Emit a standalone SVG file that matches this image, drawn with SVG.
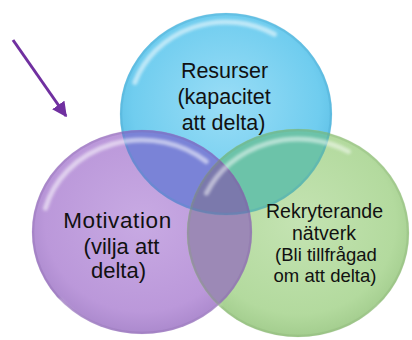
<svg xmlns="http://www.w3.org/2000/svg" width="412" height="340" viewBox="0 0 412 340">
<style>
.t{font-family:"Liberation Sans",Arial,sans-serif;fill:#111;text-anchor:middle}
.hl{fill:none;stroke:#fff;stroke-linecap:round;filter:url(#blur)}
.rim{fill:none;stroke-width:2.5}
</style>
<defs>
<filter id="blur" x="-20%" y="-20%" width="140%" height="140%"><feGaussianBlur stdDeviation="1.6"/></filter>
<radialGradient id="gB" cx="0.5" cy="0.45" r="0.55">
<stop offset="0" stop-color="#9ADDF6"/><stop offset="0.8" stop-color="#70CDEF"/><stop offset="1" stop-color="#5DBFE5"/>
</radialGradient>
<radialGradient id="gP" cx="0.5" cy="0.45" r="0.55">
<stop offset="0" stop-color="#C8AAE3"/><stop offset="0.8" stop-color="#BB98DA"/><stop offset="1" stop-color="#AB89CD"/>
</radialGradient>
<radialGradient id="gG" cx="0.5" cy="0.45" r="0.55">
<stop offset="0" stop-color="#C4E3B2"/><stop offset="0.8" stop-color="#B3DA9E"/><stop offset="1" stop-color="#A3CD8E"/>
</radialGradient>
<clipPath id="cpB"><ellipse cx="226" cy="114" rx="106" ry="101"/></clipPath>
<clipPath id="cpP"><ellipse cx="142" cy="232" rx="110" ry="102"/></clipPath>
<marker id="ah" viewBox="0 0 10 10" refX="9" refY="5" markerWidth="5" markerHeight="5" orient="auto" markerUnits="strokeWidth">
<path d="M0,0 L10,5 L0,10 Z" fill="#7030A0"/>
</marker>
</defs>

<g id="resurser">
<ellipse cx="226" cy="114" rx="106" ry="101" fill="url(#gB)"/>
</g>
<g id="motivation">
<ellipse cx="142" cy="232" rx="110" ry="102" fill="url(#gP)"/>
</g>
<g id="natverk">
<ellipse cx="298" cy="233" rx="111" ry="104" fill="url(#gG)"/>
</g>

<g id="overlaps">
<ellipse cx="142" cy="232" rx="110" ry="102" fill="#7A83D7" clip-path="url(#cpB)"/>
<ellipse cx="298" cy="233" rx="111" ry="104" fill="#6CC3A9" clip-path="url(#cpB)"/>
<ellipse cx="298" cy="233" rx="111" ry="104" fill="#9C89B6" clip-path="url(#cpP)"/>
<g clip-path="url(#cpB)"><ellipse cx="298" cy="233" rx="111" ry="104" fill="#7B79AC" clip-path="url(#cpP)"/></g>
</g>

<g id="gloss">
<ellipse class="rim" cx="226" cy="114" rx="105" ry="100" stroke="#3E9CC4" opacity="0.25"/>
<ellipse class="rim" cx="142" cy="232" rx="109" ry="101" stroke="#7E5FA3" opacity="0.25"/>
<ellipse class="rim" cx="298" cy="233" rx="110" ry="103" stroke="#7FA86A" opacity="0.25"/>
<path class="hl" d="M134.8,82.5 A97,92 0 0 1 274.5,34.3" stroke-width="5" opacity="0.55"/>
<path class="hl" d="M45.4,208.2 A100,92 0 0 1 206.3,161.5" stroke-width="5" opacity="0.55"/>
<path class="hl" d="M206.5,193.2 A101,94 0 0 1 348.5,151.6" stroke-width="5" opacity="0.5"/>
<path class="hl" d="M60,300 A106,98 0 0 0 220,305" stroke-width="3" opacity="0.35"/>
<path class="hl" d="M220,310 A107,100 0 0 0 380,305" stroke-width="3" opacity="0.35"/>
</g>

<g id="connectors">
<line x1="13" y1="40" x2="66" y2="116" stroke="#7030A0" stroke-width="3" marker-end="url(#ah)"/>
</g>

<g id="labels">
<text class="t" font-size="21.5"><tspan x="224.5" y="78">Resurser</tspan><tspan x="224" y="104">(kapacitet</tspan><tspan x="223.5" y="130">att delta)</tspan></text>
<text class="t" font-size="22.5" letter-spacing="0.6"><tspan x="117.5" y="228">Motivation</tspan></text>
<text class="t" font-size="22"><tspan x="121.5" y="254">(vilja att</tspan><tspan x="118.5" y="278">delta)</tspan></text>
<text class="t" font-size="19.5"><tspan x="324.5" y="218">Rekryterande</tspan><tspan x="324" y="240">nätverk</tspan></text>
<text class="t" font-size="18.5"><tspan x="326" y="261">(Bli tillfrågad</tspan><tspan x="325" y="282">om att delta)</tspan></text>
</g>
</svg>
